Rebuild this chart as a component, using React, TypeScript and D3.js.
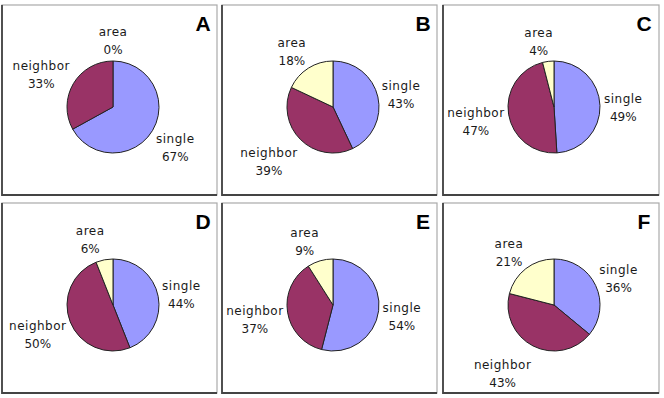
import * as d3 from "d3";

// values per panel (percent)
const panelNames = ["A", "B", "C", "D", "E", "F"];
const categories = ["single", "neighbor", "area"];
const singleValues = [67, 43, 49, 44, 54, 36];
const neighborValues = [33, 39, 47, 50, 37, 43];
const areaValues = [0, 18, 4, 6, 9, 21];

const colors: Record<string, string> = {
  single: "#9999FF",
  neighbor: "#993366",
  area: "#FFFFCC",
};

const width = 664;
const height = 398;
const radius = 46;

// panel frames
const colX = [2, 222, 443];
const colW = [215, 215, 216];
const rowY = [5, 203];
const panelH = 190;

const font = "'DejaVu Sans', sans-serif";

type Slice = { name: string; value: number };

// rough text width for label placement
let ctx: CanvasRenderingContext2D | null = null;
const textWidth = (t: string) => {
  if (!ctx) ctx = document.createElement("canvas").getContext("2d");
  if (!ctx) return t.length * 7;
  ctx.font = "12px 'DejaVu Sans'";
  return ctx.measureText(t).width + t.length * 0.5;
};

const Panel = ({ idx }: { idx: number }) => {
  const col = idx % 3;
  const row = Math.floor(idx / 3);
  const x = colX[col];
  const y = rowY[row];
  const w = colW[col];
  const h = panelH;
  const cx = x + 111;
  const cy = y + 102;

  const data: Slice[] = categories.map((c) => ({
    name: c,
    value:
      c === "single"
        ? singleValues[idx]
        : c === "neighbor"
        ? neighborValues[idx]
        : areaValues[idx],
  }));

  const pie = d3
    .pie<Slice>()
    .sort(null)
    .value((d) => d.value);
  const arcs = pie(data);
  const arc = d3
    .arc<d3.PieArcDatum<Slice>>()
    .innerRadius(0)
    .outerRadius(radius);

  return (
    <g>
      <rect x={x} y={y} width={w} height={h} fill="#fff" stroke="#aaa" strokeWidth={1.2} />
      {/* darker left / bottom edges */}
      <path
        d={`M${x},${y} V${y + h} H${x + w}`}
        fill="none"
        stroke="#444"
        strokeWidth={1.8}
      />
      <text
        x={x + 201}
        y={y + 26}
        textAnchor="middle"
        fontFamily="'Liberation Sans', Arial, sans-serif"
        fontWeight="bold"
        fontSize={21}
        fill="#000"
      >
        {panelNames[idx]}
      </text>
      <g transform={`translate(${cx},${cy})`}>
        {arcs.map((a) =>
          a.value > 0 ? (
            <path
              key={a.data.name}
              d={arc(a) || ""}
              fill={colors[a.data.name]}
              stroke="#222"
              strokeWidth={1}
            />
          ) : null
        )}
        {arcs.map((a) => {
          // label box sits just outside the rim at the slice's mid angle
          const mid = (a.startAngle + a.endAngle) / 2;
          const s = Math.sin(mid);
          const c = -Math.cos(mid);
          const hw = textWidth(a.data.name) / 2;
          const side = Math.max(-1, Math.min(1, s * 5));
          const rr = radius + 4;
          const lx = s * rr + side * hw;
          const ly = c * rr + c * (c > 0 ? 24 : 19) + 2;
          return (
            <g key={"l" + a.data.name}>
              <text
                x={lx}
                y={ly - 4}
                textAnchor="middle"
                fontFamily={font}
                fontSize={12}
                letterSpacing={0.5}
                fill="#1a1a1a"
              >
                {a.data.name}
              </text>
              <text
                x={lx}
                y={ly + 14}
                textAnchor="middle"
                fontFamily={font}
                fontSize={12}
                fill="#1a1a1a"
              >
                {a.data.value}%
              </text>
            </g>
          );
        })}
      </g>
    </g>
  );
};

export default function App() {
  return (
    <svg
      width={width}
      height={height}
      style={{ position: "absolute", left: 0, top: 0, background: "#fff" }}
    >
      <rect x={0} y={0} width={width} height={height} fill="#fff" />
      {panelNames.map((_, i) => (
        <Panel key={i} idx={i} />
      ))}
    </svg>
  );
}
